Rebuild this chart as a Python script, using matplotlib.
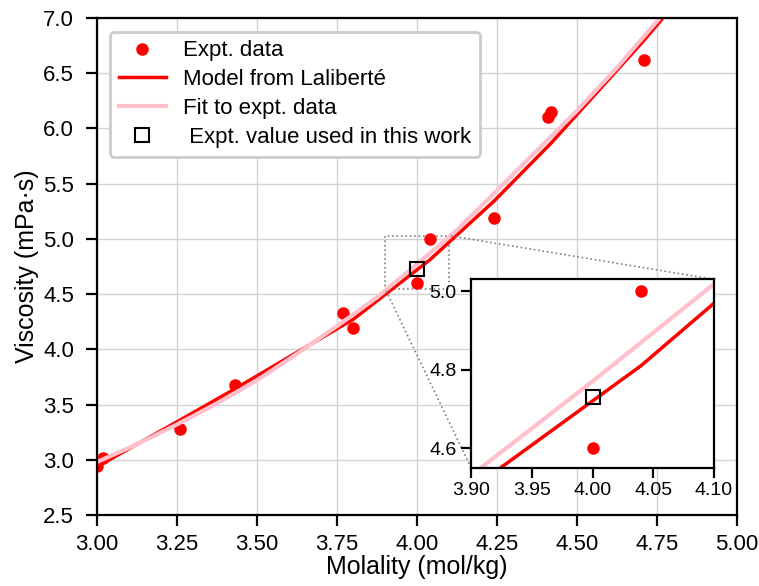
import numpy as np
import matplotlib
matplotlib.use("Agg")
from matplotlib import pyplot as plt
from mpl_toolkits.axes_grid1.inset_locator import mark_inset

plt.rcParams['font.family'] = ['Liberation Sans', 'DejaVu Sans']

# experimental points
expt_m    = [3.00, 3.00, 3.02, 3.26, 3.43, 3.77, 3.80, 4.00, 4.04, 4.24, 4.41, 4.42, 4.71]
expt_visc = [2.94, 2.98, 3.02, 3.28, 3.68, 4.33, 4.19, 4.60, 5.00, 5.19, 6.10, 6.15, 6.62]

# Laliberte model, evaluated at the experimental molalities
model_m    = [3.00, 3.02, 3.26, 3.43, 3.77, 3.80, 4.00, 4.04, 4.24, 4.41, 4.42, 4.71, 4.90]
model_visc = [2.94, 2.97, 3.36, 3.64, 4.22, 4.27, 4.72, 4.81, 5.34, 5.84, 5.87, 6.80, 7.45]

# fit to experimental data
fit_m    = [3.000, 3.125, 3.250, 3.375, 3.500, 3.625, 3.750, 3.875, 4.000,
            4.125, 4.250, 4.375, 4.500, 4.625, 4.750, 4.875]
fit_visc = [2.98, 3.14, 3.32, 3.51, 3.72, 3.96, 4.21, 4.47, 4.77,
            5.08, 5.44, 5.80, 6.16, 6.55, 6.97, 7.40]

# value used in this work
used_m, used_visc = 4.00, 4.73

fig = plt.figure(figsize=(7.59, 5.86), dpi=100)
ax = fig.add_axes([0.1278, 0.1212, 0.8432, 0.8481])

def draw(a):
  a.plot(expt_m, expt_visc, 'o', color='red', ms=8, label='Expt. data')
  a.plot(model_m, model_visc, '-', color='red', lw=2.5, label='Model from Laliberté')
  a.plot(fit_m, fit_visc, '-', color='pink', lw=3, label='Fit to expt. data')
  a.plot([used_m], [used_visc], 's', mfc='none', mec='black', mew=1.5, ms=9.5,
         label=' Expt. value used in this work')

draw(ax)
ax.set_xlim(3.0, 5.0)
ax.set_ylim(2.5, 7.0)
ax.set_xticks(np.arange(3.0, 5.01, 0.25))
ax.set_xticklabels(['%.2f' % v for v in np.arange(3.0, 5.01, 0.25)])
ax.set_yticks(np.arange(2.5, 7.01, 0.5))
ax.set_yticklabels(['%.1f' % v for v in np.arange(2.5, 7.01, 0.5)])
ax.grid(True, color='#d3d3d3', lw=1)
ax.set_axisbelow(True)
ax.tick_params(labelsize=16, length=8, width=1.6)
ax.tick_params(axis='x', pad=6)
ax.tick_params(axis='y', pad=8.5)
for s in ax.spines.values():
  s.set_linewidth(1.6)
ax.set_xlabel('Molality (mol/kg)', fontsize=18, labelpad=0)
ax.set_ylabel('Viscosity (mPa·s)', fontsize=18, labelpad=3)
leg = ax.legend(loc='upper left', fontsize=16, frameon=True, fancybox=True,
                edgecolor='#cccccc', framealpha=1, handlelength=2.1,
                bbox_to_anchor=(0.003, 0.995), borderpad=0.4, labelspacing=0.35)
leg.get_frame().set_linewidth(2)

axins = fig.add_axes([0.6206, 0.2019, 0.3201, 0.3215])
draw(axins)
axins.set_xlim(3.9, 4.1)
axins.set_ylim(4.55, 5.03)
axins.set_xticks([3.90, 3.95, 4.00, 4.05, 4.10])
axins.set_xticklabels(['3.90', '3.95', '4.00', '4.05', '4.10'])
axins.set_yticks([4.6, 4.8, 5.0])
axins.set_yticklabels(['4.6', '4.8', '5.0'])
axins.tick_params(labelsize=14, length=7, width=1.6)
for s in axins.spines.values():
  s.set_linewidth(1.6)
mark_inset(ax, axins, loc1=1, loc2=3, fc='none', ec='gray', ls=':', lw=1.2)

fig.savefig('out.png', dpi=100)
